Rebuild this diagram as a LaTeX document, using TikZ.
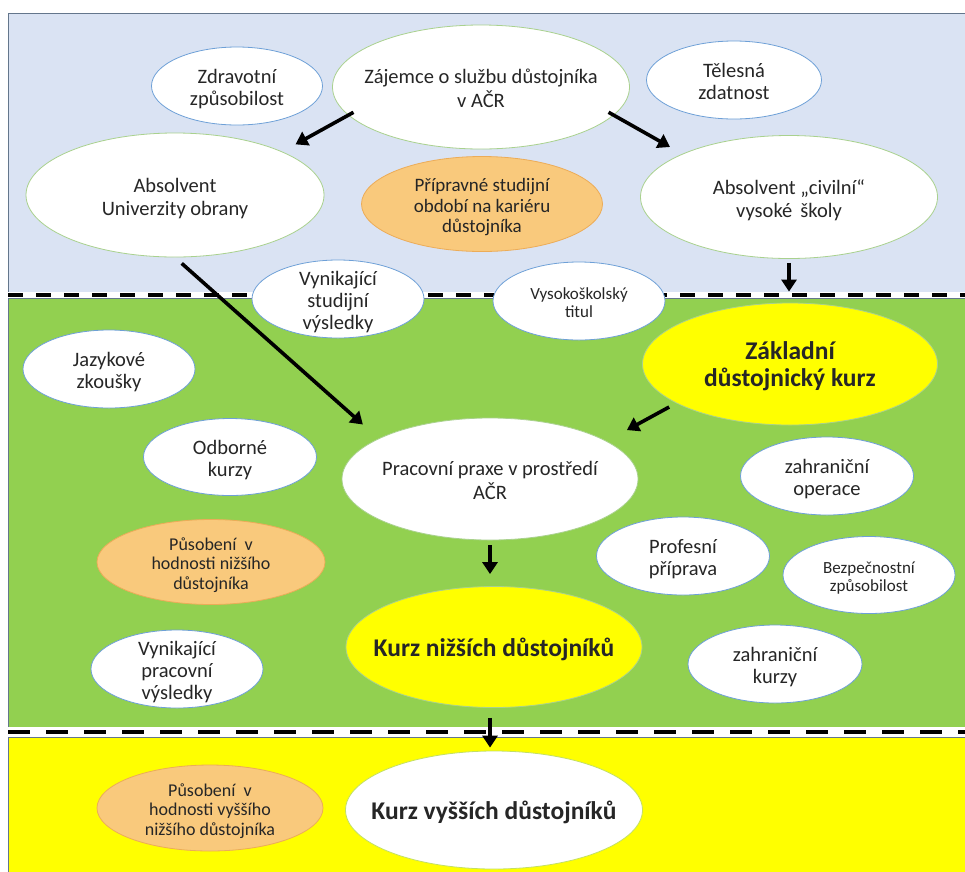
\documentclass[tikz,border=0pt]{standalone}
\usepackage{fontspec}
\setmainfont{Carlito}
\usetikzlibrary{shapes.geometric,arrows.meta}

\definecolor{bandblue}{RGB}{218,227,243}
\definecolor{bandgreen}{RGB}{146,208,80}
\definecolor{bandyellow}{RGB}{255,255,0}
\definecolor{frame}{RGB}{100,118,140}
\definecolor{ringgreen}{RGB}{169,209,142}
\definecolor{ringblue}{RGB}{110,160,215}
\definecolor{peach}{RGB}{249,201,124}
\definecolor{peachline}{RGB}{236,172,88}
\definecolor{ink}{RGB}{38,38,38}

% text centred in the oval without changing its size
\newcommand{\ctext}[1]{\vbox to 0pt{\kern8pt\vss\hbox to 0pt{\hss\begin{tabular}{@{}c@{}}#1\end{tabular}\hss}\vss}}

\tikzset{
  oval/.style={ellipse, inner sep=0pt, line width=0.8pt, text=ink},
  bigoval/.style={oval, fill=white, draw=ringgreen, minimum width=297pt, minimum height=123pt,
    font=\fontsize{20.5}{23}\selectfont},
  smalloval/.style={oval, fill=white, draw=ringblue, minimum width=172pt, minimum height=78pt,
    font=\fontsize{20.5}{22}\selectfont},
  peachoval/.style={oval, fill=peach, draw=peachline, font=\fontsize{18}{19.5}\selectfont},
  keyoval/.style={oval, draw=ringgreen, minimum width=296pt, minimum height=121pt,
    font=\fontsize{25.5}{27}\selectfont\bfseries},
  arr/.style={line width=3.6pt, -{Triangle[length=12pt,width=15pt]}}
}

\begin{document}
\begin{tikzpicture}[x=1pt,y=-1pt]
        \useasboundingbox (0,0) rectangle (965,871);
        \fill[white] (0,0) rectangle (965,871);

        % bands
        \filldraw[fill=bandblue, draw=frame, line width=0.8pt] (8,13) rectangle (967,292);
        \filldraw[fill=bandgreen, draw=frame, line width=0.8pt] (8,298.5) rectangle (967,727);
        \filldraw[fill=bandyellow, draw=frame, line width=0.8pt] (8,737) rectangle (967,873);
        \fill[white] (8,292.4) rectangle (965,298.1);
        \fill[white] (8,727.4) rectangle (965,736.6);
        \draw[line width=3.6pt, dash pattern=on 15pt off 13pt] (8,295) -- (965,295);
        \draw[line width=4.6pt, dash pattern=on 22pt off 16pt] (8,732) -- (965,732);

        % top band
        \node[smalloval, minimum width=171pt] (zdrav) at (237,86) {\ctext{Zdravotní\\způsobilost}};
        \node[bigoval, minimum height=124pt] (zajemce) at (481,87) {\ctext{Zájemce o službu důstojníka\\v AČR}};
        \node[smalloval, minimum width=175pt] (telesna) at (734,80) {\ctext{Tělesná\\zdatnost}};
        \node[bigoval, minimum width=298pt, minimum height=124pt] (absUO) at (175,195) {\ctext{Absolvent\\Univerzity obrany}};
        \node[peachoval, minimum width=241pt, minimum height=95pt, font=\fontsize{19}{20.5}\selectfont] (pripr) at (482,204) {\ctext{Přípravné studijní\\období na kariéru\\důstojníka}};
        \node[bigoval] (absCiv) at (789,197) {\ctext{Absolvent „civilní“\\vysoké\, školy}};

        % middle band
        \node[smalloval] (vynStud) at (338,299) {\ctext{Vynikající\\studijní\\výsledky}};
        \node[smalloval, font=\fontsize{17}{18.5}\selectfont] (vsTitul) at (579,301) {\ctext{Vysokoškolský\\titul}};
        \node[keyoval, fill=bandyellow, minimum width=295pt, minimum height=122pt] (zakladni) at (790,364) {\ctext{Základní\\důstojnický kurz}};
        \node[smalloval] (jazyk) at (109,369) {\ctext{Jazykové\\zkoušky}};
        \node[smalloval, minimum width=173pt, minimum height=77pt] (odborne) at (230,457) {\ctext{Odborné\\kurzy}};
        \node[bigoval, minimum width=296pt, minimum height=122pt] (pracovni) at (490,479) {\ctext{Pracovní praxe v prostředí\\AČR}};
        \node[smalloval, minimum width=173pt] (zahrOp) at (827,476) {\ctext{zahraniční\\operace}};
        \node[peachoval, minimum width=228pt, minimum height=85pt] (pusNiz) at (211,562) {\ctext{Působení\ \ v\\hodnosti nižšího\\důstojníka}};
        \node[smalloval, minimum width=173pt] (profesni) at (683,556) {\ctext{Profesní\\příprava}};
        \node[smalloval, minimum height=77pt, font=\fontsize{17}{18.5}\selectfont] (bezpec) at (869,575) {\ctext{Bezpečnostní\\způsobilost}};
        \node[keyoval, fill=bandyellow] (kurzN) at (494,647) {\ctext{Kurz nižších důstojníků}};
        \node[smalloval] (vynPrac) at (177,669) {\ctext{Vynikající\\pracovní\\výsledky}};
        \node[smalloval, minimum width=174pt] (zahrK) at (775,664) {\ctext{zahraniční\\kurzy}};

        % bottom band
        \node[peachoval, minimum width=226pt, minimum height=86pt] (pusVys) at (210,808) {\ctext{Působení\ \ v\\hodnosti vyššího\\nižšího důstojníka}};
        \node[keyoval, fill=white, draw=ringgreen!70!bandyellow, minimum width=297pt, minimum height=118pt] (kurzV) at (494,810) {\ctext{Kurz vyšších důstojníků}};

        % arrows
        \draw[arr, shorten <=-6pt, shorten >=15pt] (zajemce.192) -- (absUO.22);
        \draw[arr, shorten <=-6pt, shorten >=14pt] (zajemce.348) -- (absCiv.158);
        \draw[arr, shorten <=4pt, shorten >=11pt] (absCiv.south) -- (absCiv.south |- zakladni.north);
        \draw[arr, shorten <=9pt, shorten >=21pt] (absUO.south) -- (pracovni.160);
        \draw[arr, shorten <=8pt, shorten >=23pt] (zakladni.199) -- (pracovni.18);
        \draw[arr, shorten <=5pt, shorten >=12pt] (pracovni.south) -- (pracovni.south |- kurzN.north);
        \draw[arr, shorten <=10pt, shorten >=3pt] (kurzN.south -| pracovni.south) -- (pracovni.south |- kurzV.north);
    \end{tikzpicture}
\end{document}
